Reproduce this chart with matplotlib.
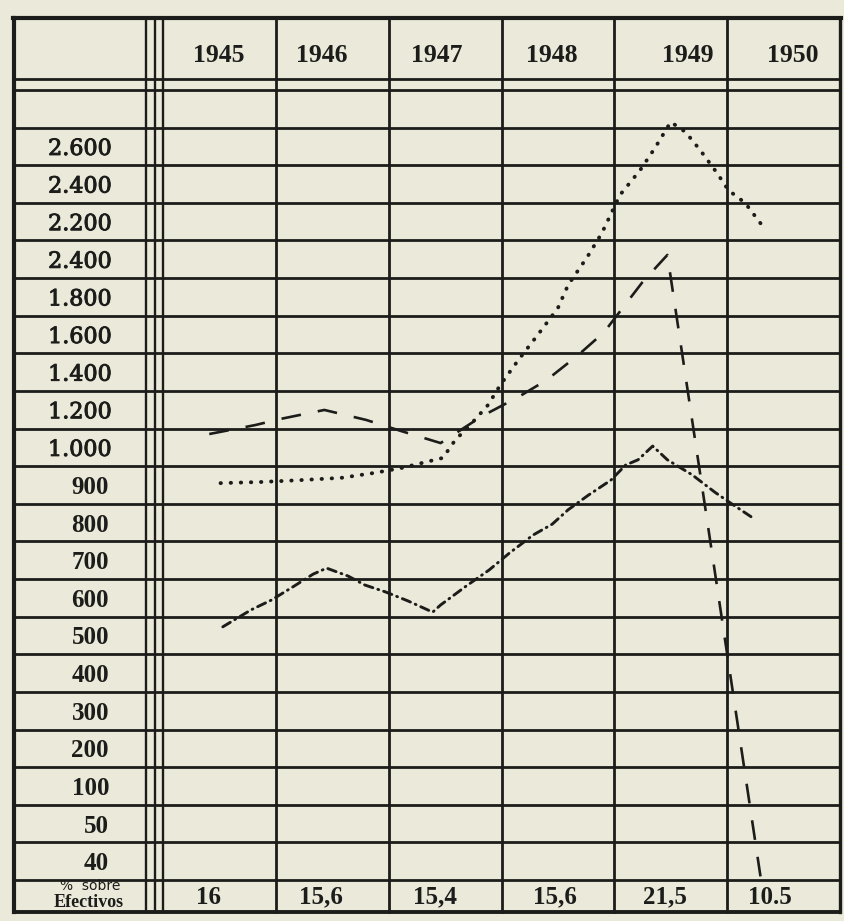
import numpy as np
import matplotlib.pyplot as plt
from matplotlib import transforms
import matplotlib.patheffects as pe

years = [1945, 1946, 1947, 1948, 1949, 1950]
row_values = [2600, 2400, 2200, 2000, 1800, 1600, 1400, 1200, 1000,
              900, 800, 700, 600, 500, 400, 300, 200, 100, 50, 40]
# printed labels (the fourth one is printed "2.400" in the original)
row_labels = ['2.600', '2.400', '2.200', '2.400', '1.800', '1.600', '1.400',
              '1.200', '1.000', '900', '800', '700', '600', '500', '400',
              '300', '200', '100', '50', '40']
pct_labels = ['16', '15,6', '15,4', '15,6', '21,5', '10.5']

# traced curves (x in years, y in the chart's units)
dash_x = [1944.91, 1945.32, 1945.54, 1945.93, 1946.30, 1946.61, 1946.96,
          1947.33, 1947.65, 1947.90, 1948.18, 1948.41, 1948.75, 1948.97, 1949.80]
dash_y = [1071, 1119, 1151, 1199, 1146, 1087, 1023,
          1167, 1268, 1358, 1491, 1613, 1879, 2023, 35]

dot_x = [1945.01, 1945.37, 1945.72, 1946.08, 1946.37, 1946.61, 1946.87, 1946.98,
         1947.09, 1947.23, 1947.38, 1947.49, 1947.65, 1947.82, 1948.00, 1948.09,
         1948.26, 1948.39, 1948.55, 1948.73, 1948.86, 1949.00, 1949.13, 1949.26,
         1949.41, 1949.51, 1949.66, 1949.82]
dot_y = [905, 908, 913, 919, 932, 945, 964, 972,
         1039, 1124, 1225, 1332, 1465, 1597, 1741, 1863,
         2012, 2140, 2342, 2475, 2592, 2730, 2677, 2581,
         2459, 2368, 2299, 2172]

dd_x = [1945.03, 1945.28, 1945.46, 1945.65, 1945.83, 1945.95, 1946.14, 1946.29,
        1946.47, 1946.67, 1946.89, 1946.96, 1947.19, 1947.39, 1947.57, 1947.78,
        1947.95, 1948.09, 1948.27, 1948.47, 1948.60, 1948.71, 1948.84, 1948.97,
        1949.19, 1949.39, 1949.53, 1949.73]
dd_y = [523, 568, 594, 629, 663, 679, 658, 634,
        616, 592, 562, 581, 632, 674, 719, 767,
        796, 834, 873, 913, 953, 967, 1007, 967,
        927, 881, 852, 812]

ink = '#1c1c1a'
paper = '#ebeada'
W, H = 844, 921

fig = plt.figure(figsize=(W / 100, H / 100), dpi=100, facecolor=paper)
tab = fig.add_axes([0, 0, 1, 1])
tab.set_xlim(0, W)
tab.set_ylim(H, 0)
tab.axis('off')

# table geometry (pixels)
xl, xr = 14, 840
x0 = 163
cw = (xr - x0) / 6
yt, yh1, y0, y1, yb = 18, 79, 90, 880, 912
rh = (y1 - y0) / 21

tab.plot([xl - 1, xr + 1], [yt, yt], color=ink, lw=3.0)
tab.plot([xl, xr], [yb, yb], color=ink, lw=2.8)
tab.plot([xl, xr], [yh1, yh1], color=ink, lw=2.0)
for i in range(22):
    y = y0 + i * rh
    tab.plot([xl, xr], [y, y], color=ink, lw=2.0)
tab.plot([xl, xl], [yt, yb], color=ink, lw=3.0)
tab.plot([xr, xr], [yt, yb], color=ink, lw=2.4)
for x in (146, 155, x0):
    tab.plot([x, x], [yt, yb], color=ink, lw=1.7)
for k in range(1, 6):
    x = x0 + k * cw
    tab.plot([x, x], [yt, yb], color=ink, lw=2.0)

# plotting area with a row-based value scale
ax = fig.add_axes([x0 / W, 1 - y1 / H, (xr - x0) / W, (y1 - y0) / H])
scale_vals = np.array(sorted(row_values + [30, 2800, 3000]), dtype=float)
scale_pos = np.arange(len(scale_vals)) - 21.5


def fwd(v):
    return np.interp(v, scale_vals, scale_pos)


def inv(p):
    return np.interp(p, scale_pos, scale_vals)


ax.set_yscale('function', functions=(fwd, inv))
ax.set_xlim(1944.5, 1950.5)
ax.set_ylim(35, 2900)
ax.axis('off')
ax.patch.set_visible(False)

ax.plot(dash_x, dash_y, color=ink, lw=1.9, dashes=(7.5, 6.5), clip_on=False)
ax.plot(dot_x, dot_y, color=ink, lw=2.8, dashes=(0.1, 2.5),
        dash_capstyle='round', clip_on=False)
ax.plot(dd_x, dd_y, color=ink, lw=2.1, dashes=(3.0, 1.8, 0.3, 1.8),
        dash_capstyle='round', clip_on=False)

# texts
serif = 'Liberation Serif'
top_tr = transforms.blended_transform_factory(ax.transData, tab.transData)
left_tr = transforms.blended_transform_factory(tab.transData, ax.transData)
thick = [pe.withStroke(linewidth=0.7, foreground=ink)]

year_shift = [-0.01, -0.09, -0.07, -0.05, 0.15, 0.08]
for yr, s in zip(years, year_shift):
    ax.text(yr + s, 55, str(yr), transform=top_tr, ha='center', va='center',
            fontsize=18.5, fontweight='bold', family=serif, color=ink)

for v, lab in zip(row_values, row_labels):
    if v >= 1000:
        ax.text(112, v, lab, transform=left_tr, ha='right', va='center_baseline',
                fontsize=16, family='DejaVu Serif', color=ink, path_effects=thick)
    else:
        ax.text(109, v, lab, transform=left_tr, ha='right', va='center_baseline',
                fontsize=18, fontweight='bold', family=serif, color=ink)

pct_shift = [-0.10, -0.10, -0.09, -0.03, -0.05, -0.12]
for yr, s, lab in zip(years, pct_shift, pct_labels):
    ax.text(yr + s, 897, lab, transform=top_tr, ha='center', va='center',
            fontsize=18, fontweight='bold', family=serif, color=ink)

tab.text(90, 886, '%  sobre', ha='center', va='center', fontsize=10,
         family='DejaVu Sans', color=ink)
tab.text(89, 902, 'Efectivos', ha='center', va='center', fontsize=13,
         fontweight='bold', family=serif, color=ink)

fig.savefig('out.png', dpi=100, facecolor=paper)
